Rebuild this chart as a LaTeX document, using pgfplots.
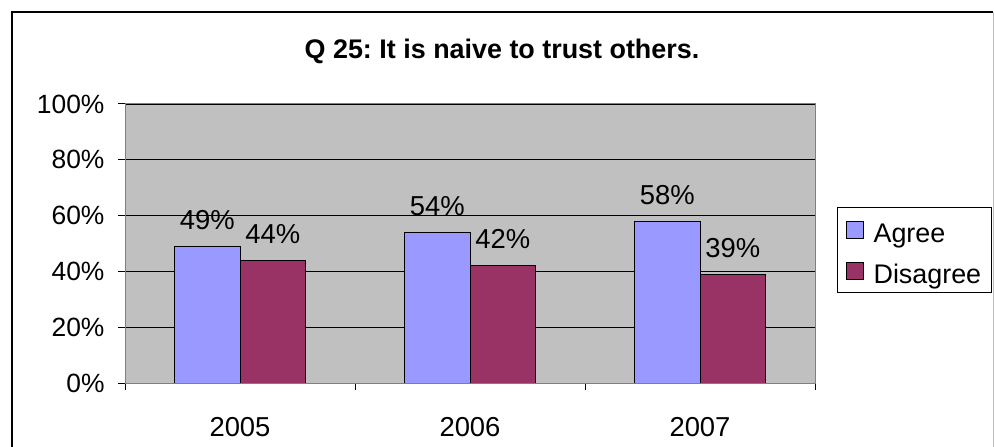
\documentclass[border=0pt]{standalone}
\usepackage{pgfplots}
\pgfplotsset{compat=1.18}
\usepackage{fontspec}
\setmainfont{Liberation Sans}
\definecolor{agree}{HTML}{9999FF}
\definecolor{disagree}{HTML}{993366}
\definecolor{plotbg}{HTML}{C0C0C0}
\definecolor{bordergray}{HTML}{808080}
\begin{document}
\frenchspacing
\begin{tikzpicture}
\useasboundingbox (0bp,0bp) rectangle (994bp,447bp);
\fill[white] (0bp,0bp) rectangle (994bp,447bp);
\draw[black, line width=2bp] (12bp,-20bp) -- (12bp,435bp) -- (993bp,435bp);
\draw[gray!50, line width=1bp] (993bp,435bp) -- (993bp,-20bp);
\node[font=\fontsize{27}{32}\selectfont\bfseries] at (502bp,396bp) {Q 25: It is naive to trust others.};
\begin{axis}[
  at={(125bp,64bp)}, anchor=south west,
  scale only axis, width=690bp, height=279bp,
  ybar=0pt, bar width=0.285,
  every axis plot post/.append style={legend image code/.code={\draw[##1, draw=black, line width=1bp] (0bp,-8.5bp) rectangle (17bp,8.5bp);}},
  xmin=-0.5, xmax=2.5, ymin=0, ymax=100,
  axis background/.style={fill=plotbg},
  axis line style={draw=bordergray, line width=1bp},
  ymajorgrids, grid style={black, line width=0.8bp},
  ytick={0,20,40,60,80,100},
  yticklabels={0\%,20\%,40\%,60\%,80\%,100\%},
  xtick={0,1,2}, xticklabels={2005,2006,2007},
  minor xtick={-0.5,0.5,1.5,2.5},
  major x tick style={draw=none},
  xtick pos=bottom, ytick pos=left,
  tick align=outside, major tick length=7bp, minor tick length=7bp,
  tick style={black, line width=1bp},
  yticklabel style={font=\fontsize{26.5}{31}\selectfont, xshift=-10bp},
  xticklabel style={font=\fontsize{27.5}{32}\selectfont, yshift=-24bp},
  /pgf/number format/assume math mode=true,
  nodes near coords={\pgfmathprintnumber{\pgfplotspointmeta}\%},
  every node near coord/.append style={font=\fontsize{27.5}{32}\selectfont, anchor=base, yshift=17bp, black},
  legend style={at={(1.032,0.631)}, anchor=north west, draw=black, fill=white, line width=1bp,
    font=\fontsize{27}{32}\selectfont, row sep=8.5bp, inner xsep=8bp, inner ysep=6bp,
    /tikz/every odd column/.append style={column sep=8bp},
    /tikz/every even column/.append style={text height=27bp, text depth=5.5bp, inner sep=0pt}},
  legend cell align=left,
]
\addplot[fill=agree, draw=black, line width=1bp] coordinates {(0,49) (1,54) (2,58)};
\addplot[fill=disagree, draw=black, line width=1bp] coordinates {(0,44) (1,42) (2,39)};
\legend{Agree,Disagree}
\draw[black, line width=1bp] (rel axis cs:0,0) -- (rel axis cs:1,0);
\end{axis}
\end{tikzpicture}
\end{document}
